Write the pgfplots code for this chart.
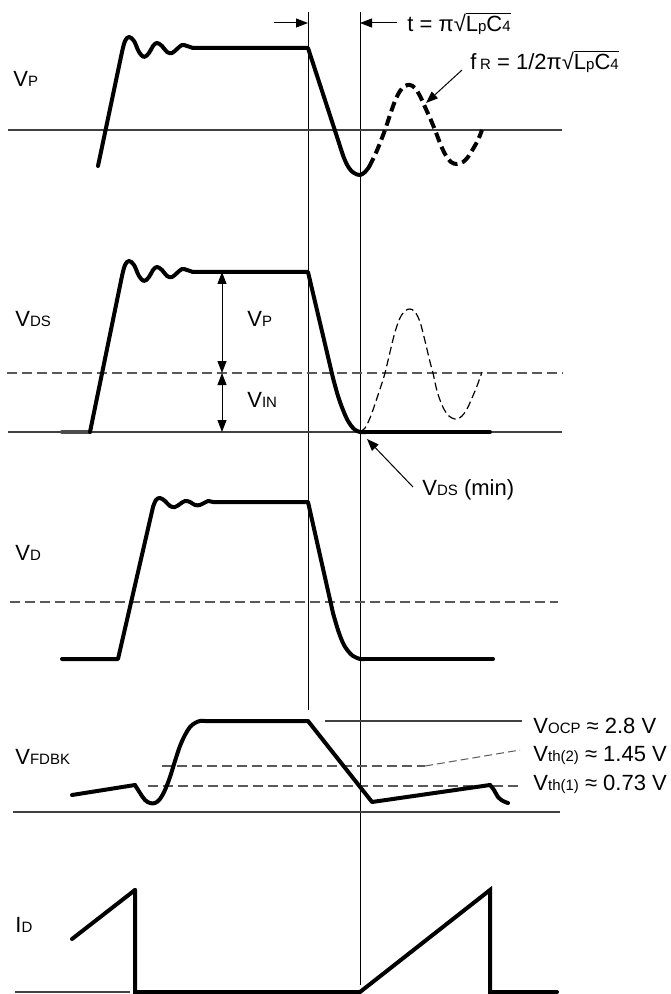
\documentclass[border=0pt]{standalone}
\usepackage{fontspec}
\setmainfont{Liberation Sans}
\usepackage{pgfplots}
\pgfplotsset{compat=1.18}
\usetikzlibrary{arrows.meta}
\newcommand\s[1]{{\fontsize{7.5}{8}\selectfont #1}}
\tikzset{
  wave/.style={black, line width=2pt, line cap=round, line join=round},
  swave/.style={black, line width=2pt, line cap=round, line join=round, smooth, tension=0.6},
  thinl/.style={black!75, line width=0.7pt},
  vline/.style={black, line width=0.5pt},
  dl/.style={black!65, line width=0.7pt, dash pattern=on 5pt off 2.5pt},
  tip/.style={-{Triangle[length=6pt,width=4.5pt]}},
  dtip/.style={{Triangle[length=6pt,width=4.5pt]}-{Triangle[length=6pt,width=4.5pt]}},
  lab/.style={anchor=base west, inner sep=0pt, font=\fontsize{11}{13}\selectfont},
}
\begin{document}
\begin{tikzpicture}
\begin{axis}[
  scale only axis, width=335pt, height=497pt,
  xmin=0, xmax=670, ymin=0, ymax=994, y dir=reverse,
  axis lines=none, clip=false,
  every axis plot/.append style={mark=none},
]
% bounding frame (invisible)
\addplot[draw=none] coordinates {(0,0) (670,994)};

% ---------- reference vertical lines ----------
\addplot[vline] coordinates {(308,12) (308,710)};
\addplot[vline] coordinates {(360,12) (360,985)};
\addplot[vline, tip] coordinates {(274,23) (308,23)};
\addplot[vline, tip] coordinates {(397,23) (360,23)};

% ---------- panel 1: VP ----------
\addplot[thinl] coordinates {(8,130) (562,130)};
\addplot[wave] coordinates {(98,166) (122,52)};
\addplot[swave] coordinates {(122,52) (125,41) (129,37) (134,41) (139,52) (144,57) (149,53) (153,46) (157,43) (162,46) (167,52) (172,53) (177,49) (182,45) (187,46) (193,48)};
\addplot[wave] coordinates {(193,48) (308,48) (339,143)};
\addplot[swave] coordinates {(339,143) (344,158) (349,168) (354,173) (360,175) (365,172) (369,167)};
\addplot[black, line width=2pt, smooth, tension=0.6, dash pattern=on 5pt off 2.5pt] coordinates {(369,167) (375,155) (380,143) (385,130) (390,115) (395,101) (400,91) (405,86) (410,85) (415,88) (420,96) (425,107) (430,118) (435,130) (440,143) (445,154) (451,162) (457,164) (463,162) (468,157) (473,149) (478,140) (482,130)};
\addplot[vline, tip] coordinates {(462,70) (426,103)};
\node[lab] at (axis cs:13,87) {V\s{P}};
\node[lab] at (axis cs:407,32) {t = π√$\overline{\hbox{L\s{p}C\s{4}}}$};
\node[lab] at (axis cs:470,70) {f\,\s{R} = 1/2π√$\overline{\hbox{L\s{p}C\s{4}}}$};

% ---------- panel 2: VDS ----------
\addplot[thinl] coordinates {(8,432) (562,432)};
\addplot[dl] coordinates {(7,373) (563,373)};
\addplot[wave, black!70] coordinates {(62,432) (90,432)};
\addplot[wave] coordinates {(90,432) (122,276)};
\addplot[swave] coordinates {(122,276) (125,265) (129,261) (134,265) (139,276) (144,281) (149,277) (153,270) (157,267) (162,270) (167,276) (172,277) (177,273) (182,269) (187,270) (193,272)};
\addplot[wave] coordinates {(193,272) (308,272) (333,378)};
\addplot[swave] coordinates {(333,378) (338,396) (343,410) (348,421) (353,428) (357,431) (360,432) (366,432)};
\addplot[wave] coordinates {(366,432) (490,432)};
\addplot[black, line width=0.6pt, smooth, tension=0.6, dash pattern=on 4pt off 2pt] coordinates {(360,432) (365,428) (370,418) (375,404) (380,389) (385,373) (390,352) (395,332) (400,318) (405,311) (410,309) (415,312) (420,322) (425,341) (430,362) (433,373) (437,391) (442,405) (447,414) (452,418) (457,419) (462,416) (467,409) (472,398) (477,386) (482,372)};
\addplot[vline, dtip] coordinates {(222,272) (222,373)};
\addplot[vline, dtip] coordinates {(222,373) (222,432)};
\addplot[vline, tip] coordinates {(413,487) (367,439)};
\node[lab] at (axis cs:15,327) {V\s{DS}};
\node[lab] at (axis cs:247,327) {V\s{P}};
\node[lab] at (axis cs:247,407) {V\s{IN}};
\node[lab] at (axis cs:422,495) {V\s{DS} (min)};

% ---------- panel 3: VD ----------
\addplot[dl] coordinates {(10,602) (558,602)};
\addplot[wave] coordinates {(62,659) (118,659) (153,507)};
\addplot[swave] coordinates {(153,507) (156,500) (160,498) (165,501) (170,506) (175,507) (180,504) (185,501) (190,502) (195,505) (200,505) (204,503) (208,501) (213,502) (217,502)};
\addplot[wave] coordinates {(217,502) (308,502) (333,613)};
\addplot[swave] coordinates {(333,613) (338,630) (343,643) (348,651) (353,656) (357,658) (360,659) (365,659)};
\addplot[wave] coordinates {(365,659) (493,659)};
\node[lab] at (axis cs:15,560) {V\s{D}};

% ---------- panel 4: VFDBK ----------
\addplot[thinl] coordinates {(13,812) (560,812)};
\addplot[thinl] coordinates {(325,721) (522,721)};
\addplot[dl] coordinates {(162,766) (425,766)};
\addplot[black!65, line width=0.5pt, dash pattern=on 4pt off 2pt] coordinates {(425,766) (520,750)};
\addplot[dl] coordinates {(148,786) (522,786)};
\addplot[wave] coordinates {(72,795) (135,785)};
\addplot[swave] coordinates {(135,785) (140,793) (145,800) (150,803) (155,803) (160,799) (165,790) (170,777) (175,761) (180,746) (185,735) (190,727) (195,723) (200,721) (205,721)};
\addplot[wave] coordinates {(205,721) (308,721) (372,802) (490,785)};
\addplot[swave] coordinates {(490,785) (494,790) (498,797) (503,801) (508,803)};
\node[lab] at (axis cs:15,764) {V\s{FDBK}};
\node[lab] at (axis cs:533,733) {V\s{OCP} ≈ 2.8 V};
\node[lab] at (axis cs:533,761) {V\s{th(2)} ≈ 1.45 V};
\node[lab] at (axis cs:533,790) {V\s{th(1)} ≈ 0.73 V};

% ---------- panel 5: ID ----------
\addplot[thinl] coordinates {(15,992) (130,992)};
\addplot[wave] coordinates {(72,939) (135,890)};
\addplot[wave, line join=miter] coordinates {(135,890) (135,992) (360,992) (490,890) (490,992) (557,992)};
\node[lab] at (axis cs:15,932) {I\s{D}};
\end{axis}
\end{tikzpicture}
\end{document}
